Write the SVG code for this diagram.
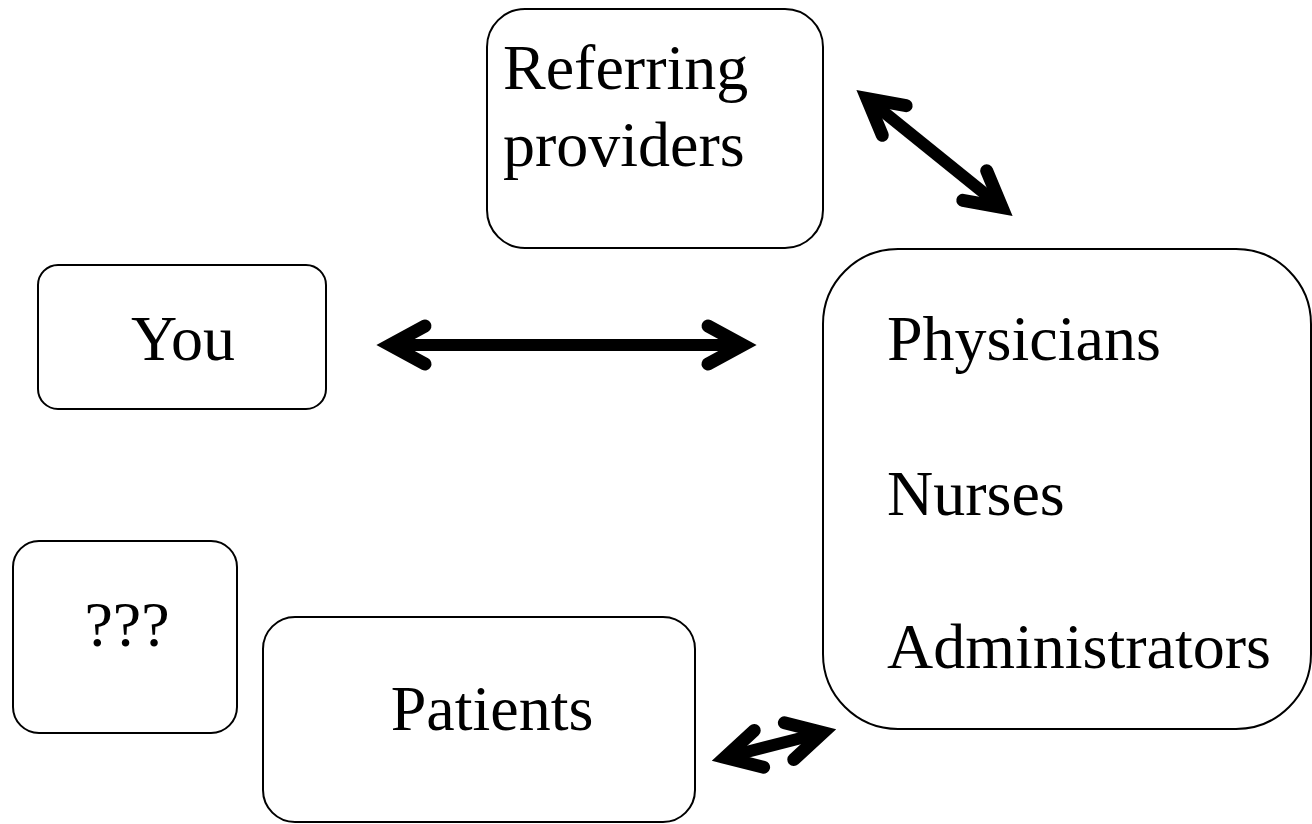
<svg xmlns="http://www.w3.org/2000/svg" width="1312" height="824" viewBox="0 0 1312 824">
  <style>
    .box { fill: #ffffff; stroke: #000000; stroke-width: 2; }
    .lbl { font-family: "Liberation Serif", "Times New Roman", serif; font-size: 64px; fill: #000000; }
    .mid { text-anchor: middle; }
    .conn { stroke: #000000; stroke-width: 12; fill: none; }
  </style>
  <defs>
    <marker id="chev" markerUnits="userSpaceOnUse" markerWidth="60" markerHeight="60" refX="0" refY="0" viewBox="-50 -30 60 60" orient="auto-start-reverse" overflow="visible">
      <path d="M -35 -19 L 0 0 L -35 19" fill="none" stroke="#000000" stroke-width="13" stroke-linecap="round" stroke-linejoin="miter"/>
    </marker>
  </defs>
  <rect width="1312" height="824" fill="#ffffff"/>

  <g id="node-referring">
    <rect class="box" x="487" y="9" width="336" height="239" rx="38" ry="38"/>
    <text class="lbl" x="503" y="89">Referring</text>
    <text class="lbl" x="503" y="166">providers</text>
  </g>

  <g id="node-staff">
    <rect class="box" x="823" y="249" width="488" height="480" rx="75" ry="75"/>
    <text class="lbl" x="887" y="360">Physicians</text>
    <text class="lbl" x="887" y="515">Nurses</text>
    <text class="lbl" x="887" y="668">Administrators</text>
  </g>

  <g id="node-you">
    <rect class="box" x="38" y="265" width="288" height="144" rx="20" ry="20"/>
    <text class="lbl mid" x="183" y="360">You</text>
  </g>

  <g id="node-unknown">
    <rect class="box" x="13" y="541" width="224" height="192" rx="26" ry="26"/>
    <text class="lbl mid" x="127" y="646">???</text>
  </g>

  <g id="node-patients">
    <rect class="box" x="263" y="617" width="432" height="205" rx="32" ry="32"/>
    <text class="lbl mid" x="492" y="730">Patients</text>
  </g>

  <g id="connectors">
    <line class="conn" x1="390" y1="345" x2="743" y2="345" marker-start="url(#chev)" marker-end="url(#chev)"/>
    <line class="conn" x1="867" y1="98.5" x2="1002" y2="207.5" marker-start="url(#chev)" marker-end="url(#chev)"/>
    <line class="conn" x1="725" y1="757.5" x2="823" y2="732.5" marker-start="url(#chev)" marker-end="url(#chev)"/>
  </g>
</svg>
